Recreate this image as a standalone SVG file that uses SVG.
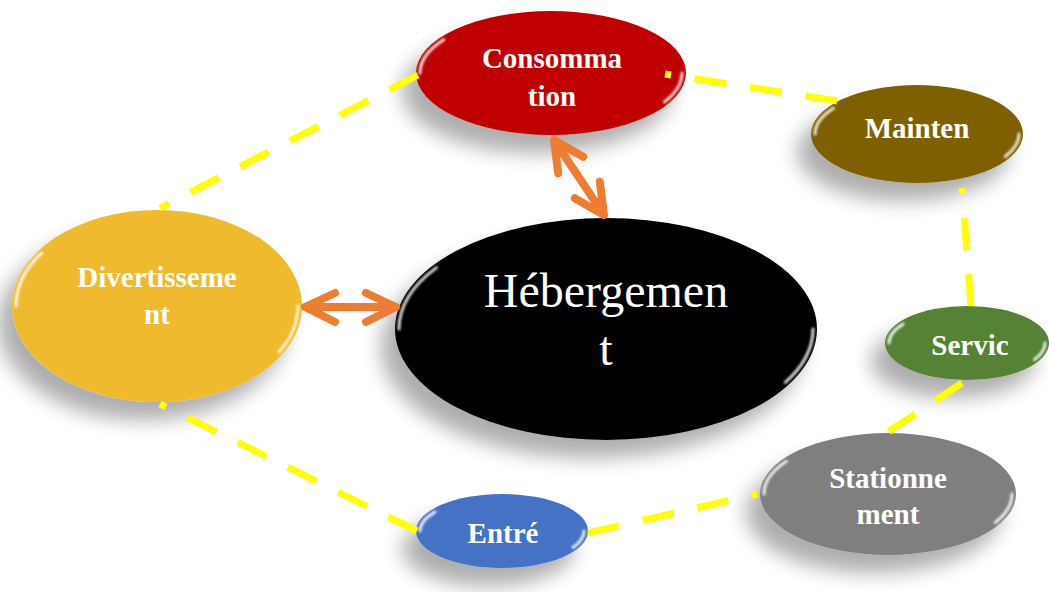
<svg xmlns="http://www.w3.org/2000/svg" width="1049" height="592" viewBox="0 0 1049 592">
<defs>
<filter id="shadow" x="-40%" y="-40%" width="180%" height="200%">
<feGaussianBlur in="SourceAlpha" stdDeviation="10"/>
<feOffset dx="-14" dy="18" result="b"/>
<feComponentTransfer><feFuncA type="linear" slope="0.32"/></feComponentTransfer>
<feMerge><feMergeNode/><feMergeNode in="SourceGraphic"/></feMerge>
</filter>
<filter id="soft" x="-20%" y="-20%" width="140%" height="140%">
<feGaussianBlur stdDeviation="0.8"/>
</filter>
<clipPath id="clipMaint"><rect x="812" y="140" width="212" height="21"/></clipPath>
</defs>
<style>
.lbl{font-family:"Liberation Serif","Times New Roman",serif;font-weight:bold;font-size:29px;fill:#ffffff;text-anchor:middle}
.big{font-family:"Liberation Serif","Times New Roman",serif;font-size:48px;fill:#ffffff;text-anchor:middle}
.hl{fill:none;stroke:#ffffff;stroke-width:3;stroke-linecap:round;opacity:0.85;filter:url(#soft)}
.dash{fill:none;stroke:#FFFF00;stroke-width:7;stroke-dasharray:32 24}
.arr{fill:none;stroke:#ED7D31;stroke-width:8;stroke-linecap:round;stroke-linejoin:round}
</style>
<rect width="1049" height="592" fill="#ffffff"/>

<g id="node-consommation">
<ellipse cx="551" cy="73" rx="135" ry="62" fill="#C00000" filter="url(#shadow)"/>
<path class="hl" d="M443.7,39.7 A131,58 0 0 0 420,73"/>
<path class="hl" d="M682,73 A131,58 0 0 1 664.4,102"/>
<text class="lbl" x="552" y="68">Consomma</text>
<text class="lbl" x="552" y="106">tion</text>
</g>

<g id="node-maintenance">
<ellipse cx="917" cy="134" rx="106" ry="49" fill="#7F6000" filter="url(#shadow)"/>
<path class="hl" d="M833.5,108.2 A102,45 0 0 0 815,134"/>
<path class="hl" d="M1019,134 A102,45 0 0 1 1005.3,156.5"/>
<text class="lbl" x="917" y="138">Mainten</text>
<text class="lbl" x="917" y="176" clip-path="url(#clipMaint)">ance</text>
</g>

<g id="node-service">
<ellipse cx="967" cy="343" rx="82" ry="37" fill="#548235" filter="url(#shadow)"/>
<path class="hl" d="M903.1,324.1 A78,33 0 0 0 889,343"/>
<path class="hl" d="M1045,343 A78,33 0 0 1 1034.5,359.5"/>
<text class="lbl" x="970" y="355">Servic</text>
</g>

<g id="node-stationnement">
<ellipse cx="888" cy="494" rx="128" ry="61" fill="#7F7F7F" filter="url(#shadow)"/>
<path class="hl" d="M786.4,461.3 A124,57 0 0 0 764,494"/>
<path class="hl" d="M1012,494 A124,57 0 0 1 995.4,522.5"/>
<text class="lbl" x="888" y="488">Stationne</text>
<text class="lbl" x="888" y="524">ment</text>
</g>

<g id="node-entre">
<ellipse cx="502" cy="531" rx="86" ry="37" fill="#4472C4" filter="url(#shadow)"/>
<path class="hl" d="M434.8,512.1 A82,33 0 0 0 420,531"/>
<path class="hl" d="M584,531 A82,33 0 0 1 573,547.5"/>
<text class="lbl" x="503" y="543">Entré</text>
</g>

<g id="node-divertissement">
<ellipse cx="157" cy="306" rx="145" ry="96" fill="#F0BA2D" filter="url(#shadow)"/>
<path class="hl" d="M41.5,253.2 A141,92 0 0 0 16,306"/>
<path class="hl" d="M298,306 A141,92 0 0 1 279.1,352"/>
<text class="lbl" x="157" y="287">Divertisseme</text>
<text class="lbl" x="157" y="324">nt</text>
</g>

<g id="node-hebergement">
<ellipse cx="606" cy="329" rx="211" ry="111" fill="#000000" filter="url(#shadow)"/>
<path class="hl" d="M436.5,267.6 A207,107 0 0 0 399,329"/>
<path class="hl" d="M813,329 A207,107 0 0 1 785.3,382.5"/>
<text class="big" x="606" y="307">Hébergemen</text>
<text class="big" x="606" y="365">t</text>
</g>

<g id="connectors">
<path class="dash" d="M418,75 L160,208"/>
<path class="dash" d="M837,101 L665,74"/>
<path class="dash" d="M971,306 L962,188"/>
<path class="dash" d="M962,383 L885,434"/>
<path class="dash" d="M588,533 L757,494"/>
<path class="dash" d="M417,531 L160,404"/>
<path class="arr" d="M305,307 L396,307 M335,293 L305,307 L335,322 M366,293 L396,307 L366,322"/>
<path class="arr" d="M554,140 L604,215 M583.2,156.7 L554,140 L558.2,173.3 M599.8,181.7 L604,215 L574.8,198.3"/>
</g>
</svg>
